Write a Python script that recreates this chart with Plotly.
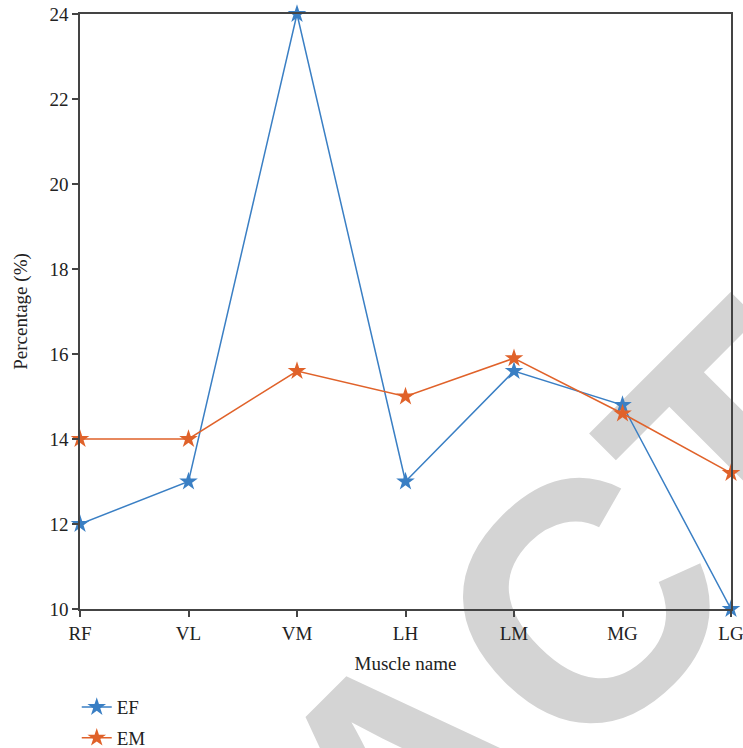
import plotly.graph_objects as go

muscles = ["RF", "VL", "VM", "LH", "LM", "MG", "LG"]
ef_values = [12, 13, 24, 13, 15.6, 14.8, 10]
em_values = [14, 14, 15.6, 15, 15.9, 14.6, 13.2]
y_ticks = [10, 12, 14, 16, 18, 20, 22, 24]

BLUE = "#3a7fc4"
ORANGE = "#e0622a"
SERIF = "Liberation Serif, Times New Roman, serif"

fig = go.Figure()
fig.add_trace(go.Scatter(
    x=muscles, y=ef_values, name="EF", mode="lines+markers",
    line=dict(color=BLUE, width=1.5),
    marker=dict(symbol="star", size=14, color=BLUE),
    cliponaxis=False, legendgroup="a"))
fig.add_trace(go.Scatter(
    x=muscles, y=em_values, name="EM", mode="lines+markers",
    line=dict(color=ORANGE, width=1.5),
    marker=dict(symbol="star", size=14, color=ORANGE),
    cliponaxis=False, legendgroup="b"))

# watermark below the data
fig.add_shape(type="rect", xref="paper", yref="paper",
              x0=0.416, x1=0.522, y0=-0.297, y1=-0.197, layer="below",
              line=dict(width=0), fillcolor="rgba(0,0,0,0)",
              label=dict(text="<b>RETRACTED</b>", textangle=-45,
                         font=dict(size=340, color="#d4d4d4",
                                   family="Liberation Sans, Arial, sans-serif")))

axis_common = dict(showline=True, linecolor="#444", linewidth=1.5, mirror=True,
                   ticks="outside", ticklen=6, tickcolor="#444", tickwidth=1.5,
                   showgrid=False, zeroline=False, automargin=False,
                   tickfont=dict(family=SERIF, size=19, color="#222"))

fig.update_xaxes(range=[0, 6], title=dict(text="Muscle name", standoff=14,
                 font=dict(family=SERIF, size=19, color="#222")), **axis_common)
fig.update_yaxes(range=[10, 24], tickvals=y_ticks,
                 title=dict(text="Percentage (%)", standoff=17,
                            font=dict(family=SERIF, size=19, color="#222")),
                 **axis_common)

fig.update_layout(
    width=743, height=748,
    margin=dict(l=80, r=12, t=14, b=139, autoexpand=False),
    paper_bgcolor="white", plot_bgcolor="rgba(0,0,0,0)",
    legend=dict(x=-0.005, y=-0.133, xanchor="left", yanchor="top",
                font=dict(family=SERIF, size=19, color="#222"),
                tracegroupgap=3, bgcolor="rgba(0,0,0,0)"),
    showlegend=True,
)

fig.write_html("out.html", config={"displayModeBar": False},
               post_script="document.body.style.margin='0';document.body.style.overflow='hidden';")
